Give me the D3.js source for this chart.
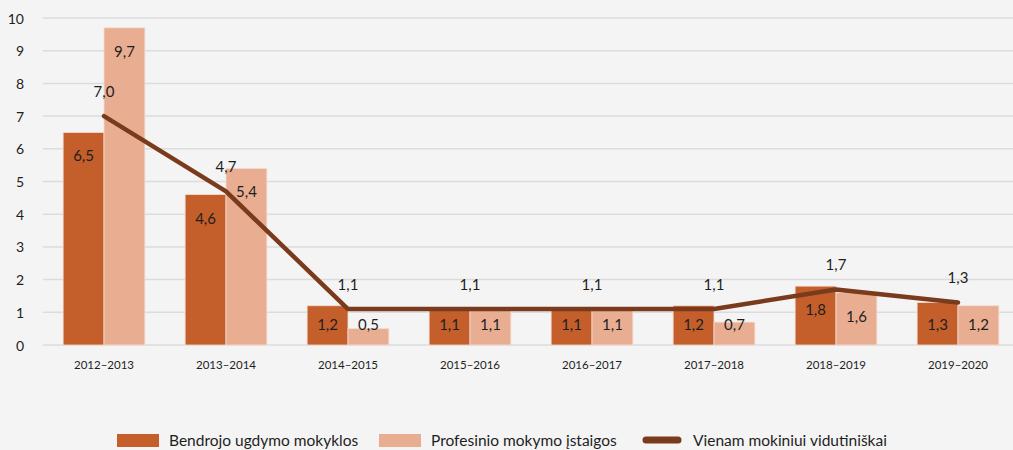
<!DOCTYPE html>
<html>
<head>
<meta charset="utf-8">
<script src="https://cdn.jsdelivr.net/npm/d3@7"></script>
<style>
  html, body { margin: 0; padding: 0; background: #f4f4f4; }
  svg { display: block; font-family: Lato, "Open Sans", sans-serif; }
  .grid line { stroke: #dcdcdc; stroke-width: 1.5; }
  .tick-y { font-size: 14px; fill: #1e1e1e; }
  .tick-x { font-size: 11.5px; fill: #1e1e1e; }
  .val { font-size: 15px; fill: #1e1e1e; }
  .legend-text { font-size: 15.5px; fill: #1e1e1e; }
</style>
</head>
<body>
<svg id="chart" width="1013" height="450"></svg>
<script>
(function () {
  "use strict";

  const years = ["2012–2013", "2013–2014", "2014–2015", "2015–2016",
                 "2016–2017", "2017–2018", "2018–2019", "2019–2020"];
  const bendrojo   = [6.5, 4.6, 1.2, 1.1, 1.1, 1.2, 1.8, 1.3];
  const profesinio = [9.7, 5.4, 0.5, 1.1, 1.1, 0.7, 1.6, 1.2];
  const vidutiniskai = [7.0, 4.7, 1.1, 1.1, 1.1, 1.1, 1.7, 1.3];
  const yTicks = [0, 1, 2, 3, 4, 5, 6, 7, 8, 9, 10];

  const seriesNames = ["Bendrojo ugdymo mokyklos", "Profesinio mokymo įstaigos", "Vienam mokiniui vidutiniškai"];
  const colDark  = "#c45f2c";
  const colLight = "#e9ae91";
  const colLine  = "#7a3b1c";

  const fmtLt = v => v.toFixed(1).replace(".", ",");

  const svg = d3.select("#chart");

  const x = d3.scaleBand().domain(years).range([43, 1019])
    .paddingInner(0.33).paddingOuter(0.165);
  const xs = d3.scaleBand().domain([0, 1]).range([0, x.bandwidth()]);
  const y = d3.scaleLinear().domain([0, 10]).range([345, 18]);
  const xc = d => x(d) + x.bandwidth() / 2;

  // grid
  svg.append("g").attr("class", "grid")
    .selectAll("line").data(yTicks).join("line")
    .attr("x1", 43).attr("x2", 1013)
    .attr("y1", d => y(d)).attr("y2", d => y(d));

  // y tick labels
  svg.append("g").selectAll("text").data(yTicks).join("text")
    .attr("class", "tick-y")
    .attr("x", 24).attr("y", d => y(d))
    .attr("text-anchor", "end").attr("dominant-baseline", "central")
    .text(d => d);

  // x labels
  svg.append("g").selectAll("text").data(years).join("text")
    .attr("class", "tick-x")
    .attr("x", xc).attr("y", 369)
    .attr("text-anchor", "middle")
    .text(d => d);

  // bars
  const rows = years.map((yr, i) => ({ yr, vals: [bendrojo[i], profesinio[i]] }));
  const grp = svg.append("g").selectAll("g").data(rows).join("g")
    .attr("transform", d => `translate(${x(d.yr)},0)`);

  grp.selectAll("rect").data(d => d.vals.map((v, k) => ({ v, k }))).join("rect")
    .attr("x", d => xs(d.k))
    .attr("y", d => y(d.v))
    .attr("width", xs.bandwidth())
    .attr("height", d => y(0) - y(d.v))
    .attr("fill", d => d.k === 0 ? colDark : colLight)
    .attr("stroke", "#f3dcd0").attr("stroke-width", 0.8);

  grp.selectAll("text").data(d => d.vals.map((v, k) => ({ v, k }))).join("text")
    .attr("class", "val")
    .attr("x", d => xs(d.k) + xs.bandwidth() / 2)
    .attr("y", d => Math.min(y(d.v) + 23, 324))
    .attr("text-anchor", "middle").attr("dominant-baseline", "central")
    .text(d => fmtLt(d.v));

  // line
  const lineData = years.map((yr, i) => ({ yr, v: vidutiniskai[i] }));
  svg.append("path").datum(lineData)
    .attr("fill", "none").attr("stroke", colLine)
    .attr("stroke-width", 4.5).attr("stroke-linecap", "round").attr("stroke-linejoin", "round")
    .attr("d", d3.line().x(d => xc(d.yr)).y(d => y(d.v)));

  svg.append("g").selectAll("text").data(lineData).join("text")
    .attr("class", "val")
    .attr("x", d => xc(d.yr)).attr("y", d => y(d.v) - 25)
    .attr("text-anchor", "middle").attr("dominant-baseline", "central")
    .text(d => fmtLt(d.v));

  // legend (kept just inside the bottom edge)
  const legX = [117, 379, 642];
  const leg = svg.append("g").selectAll("g").data(seriesNames).join("g")
    .attr("transform", (d, i) => `translate(${legX[i]},0)`);
  leg.filter((d, i) => i < 2).append("rect")
    .attr("x", 0).attr("y", 434).attr("width", 42).attr("height", 13)
    .attr("fill", (d, i) => i === 0 ? colDark : colLight);
  leg.filter((d, i) => i === 2).append("line")
    .attr("x1", 4).attr("x2", 36).attr("y1", 440).attr("y2", 440)
    .attr("stroke", colLine).attr("stroke-width", 7).attr("stroke-linecap", "round");
  leg.append("text").attr("class", "legend-text")
    .attr("x", (d, i) => i === 2 ? 51 : 52).attr("y", 446)
    .text(d => d);
})();
</script>
</body>
</html>
